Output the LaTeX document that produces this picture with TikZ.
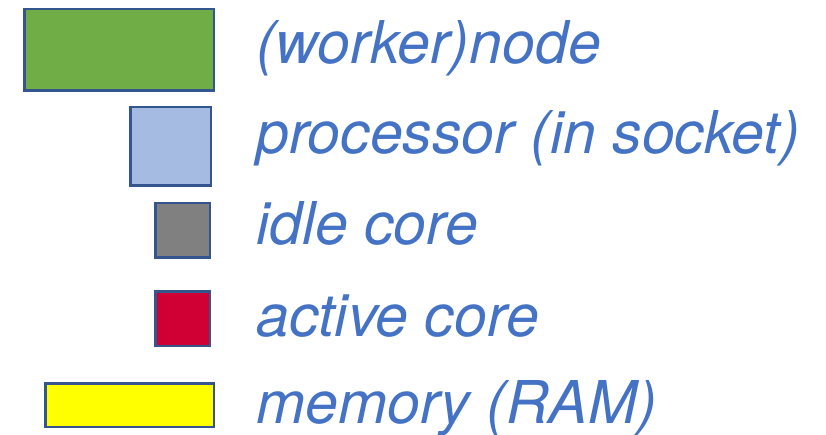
\documentclass[tikz,border=0pt]{standalone}
\usepackage{fontspec}
\setmainfont{TeX Gyre Heros}
\usepackage{tikz}
\usepackage{xcolor}
\definecolor{nodegreen}{HTML}{70AD47}
\definecolor{procblue}{HTML}{A5BBE2}
\definecolor{idlegrey}{HTML}{808080}
\definecolor{activered}{HTML}{D10034}
\definecolor{ramyellow}{HTML}{FFFF00}
\definecolor{edgeblue}{HTML}{35558F}
\definecolor{labelblue}{HTML}{4472C4}
\tikzset{
  legendbox/.style={draw=edgeblue, line width=2.5pt, inner sep=0pt},
  legendtext/.style={anchor=base west, inner sep=0pt, text=labelblue,
    font=\fontsize{59}{60}\selectfont\itshape}
}

\begin{document}
\begin{tikzpicture}[x=1pt,y=-1pt]
\useasboundingbox (0,0) rectangle (826,435);
\node[legendbox, fill=nodegreen, minimum width=189.5pt, minimum height=81.5pt] (wnode) at (119,50) {};
\node[legendbox, fill=procblue, minimum width=80.5pt, minimum height=78.5pt] (proc) at (170.5,146.5) {};
\node[legendbox, fill=idlegrey, minimum width=54.5pt, minimum height=54.5pt] (idle) at (182.5,230.5) {};
\node[legendbox, fill=activered, minimum width=54.5pt, minimum height=54.5pt] (active) at (182.5,318.5) {};
\node[legendbox, fill=ramyellow, minimum width=168.5pt, minimum height=43.5pt] (ram) at (129.5,405) {};
\node[legendtext] (wnodetxt) at (256,64) {(worker)node};
\node[legendtext] (proctxt) at (256,154) {processor (in socket)};
\node[legendtext] (idletxt) at (256,245) {idle core};
\node[legendtext] (activetxt) at (256,336) {active core};
\node[legendtext] (ramtxt) at (256,423) {memory (RAM)};
\end{tikzpicture}
\end{document}
